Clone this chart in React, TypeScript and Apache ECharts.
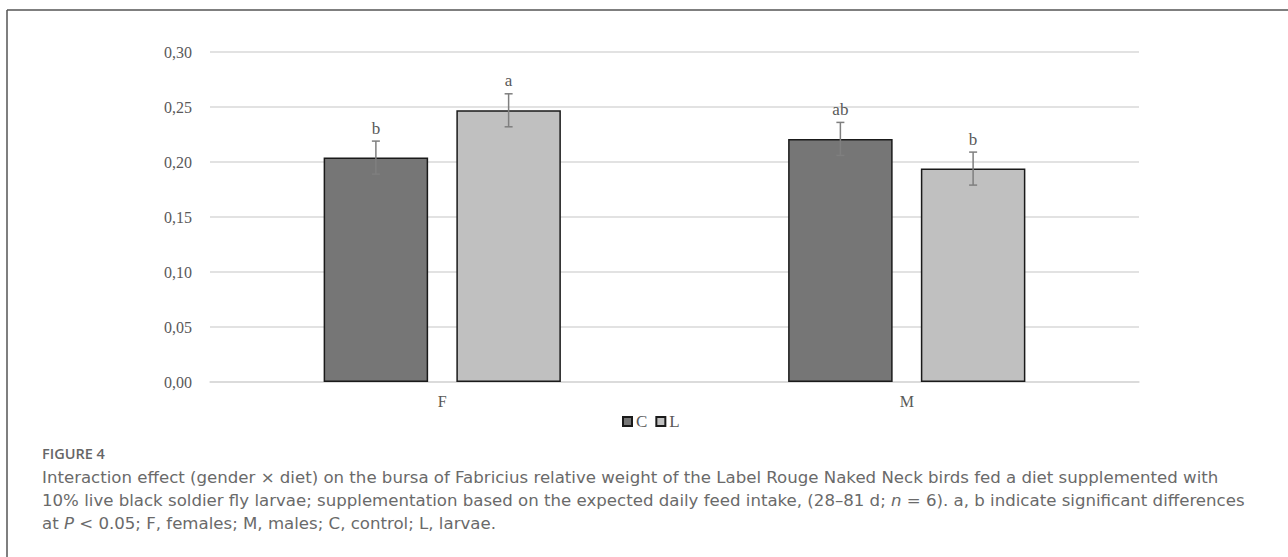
import React, { useEffect, useRef } from "react";
import * as echarts from "echarts";

const categories = ["F", "M"];
const seriesNames = ["C", "L"];
const cValues = [0.204, 0.221];
const lValues = [0.247, 0.194];
const cErrors = [0.015, 0.015];
const lErrors = [0.015, 0.015];
const cLetters = ["b", "ab"];
const lLetters = ["a", "b"];

const captionTitle = "FIGURE 4";
const captionLines = [
  "Interaction effect (gender × diet) on the bursa of Fabricius relative weight of the Label Rouge Naked Neck birds fed a diet supplemented with",
  "10% live black soldier fly larvae; supplementation based on the expected daily feed intake, (28–81 d; {i|n} = 6). a, b indicate significant differences",
  "at {i|P} < 0.05; F, females; M, males; C, control; L, larvae.",
];

const BAR_W = 0.225;
const BAR_GAP = 0.27;
const OFFSET_FRAC = (BAR_W * (1 + BAR_GAP)) / 2;
const SERIF = "'Liberation Serif', 'Times New Roman', serif";
const TXT = "#595959";

function errSeries(name: string, values: number[], errs: number[], letters: string[], sign: number) {
  return {
    type: "custom",
    name,
    z: 10,
    renderItem: (params: any, api: any) => {
      const i = api.value(0);
      const v = api.value(1);
      const e = api.value(2);
      const band = api.size([1, 0])[0];
      const off = sign * band * OFFSET_FRAC;
      const top = api.coord([i, v + e]);
      const bot = api.coord([i, v - e]);
      const x = top[0] + off;
      const stroke = { stroke: "#7f7f7f", lineWidth: 1.5 };
      return {
        type: "group",
        children: [
          { type: "line", shape: { x1: x, y1: top[1], x2: x, y2: bot[1] }, style: stroke },
          { type: "line", shape: { x1: x - 4, y1: top[1], x2: x + 4, y2: top[1] }, style: stroke },
          { type: "line", shape: { x1: x - 4, y1: bot[1], x2: x + 4, y2: bot[1] }, style: stroke },
          {
            type: "text",
            x,
            y: top[1] - 13,
            style: {
              text: letters[i],
              textAlign: "center",
              textVerticalAlign: "middle",
              font: `17px ${SERIF}`,
              fill: TXT,
            },
          },
        ],
      };
    },
    data: values.map((v, i) => [i, v, errs[i]]),
    encode: { x: 0, y: 1 },
  };
}

export default function App() {
  const ref = useRef<HTMLDivElement>(null);
  useEffect(() => {
    const chart = echarts.init(ref.current!, null, { renderer: "svg" });
    const captionFont = "'DejaVu Sans', 'Open Sans', sans-serif";
    chart.setOption({
      animation: false,
      backgroundColor: "#ffffff",
      grid: { left: 210, width: 929, top: 52, bottom: 175 },
      legend: {
        data: seriesNames,
        left: 622,
        top: 413,
        padding: 0,
        itemWidth: 9,
        itemHeight: 9,
        itemGap: 8,
        textStyle: { fontFamily: SERIF, fontSize: 17, color: TXT, padding: [0, 0, 0, -1] },
        icon: "rect",
      },
      xAxis: {
        type: "category",
        data: categories,
        axisLine: { lineStyle: { color: "#d9d9d9", width: 1.5 } },
        axisTick: { show: false },
        axisLabel: { fontFamily: SERIF, fontSize: 16, color: TXT, margin: 11 },
      },
      yAxis: {
        type: "value",
        min: 0,
        max: 0.3,
        interval: 0.05,
        axisLine: { show: false },
        axisTick: { show: false },
        splitLine: { lineStyle: { color: "#d9d9d9", width: 1.5 } },
        axisLabel: {
          fontFamily: SERIF,
          fontSize: 16,
          color: TXT,
          margin: 18,
          formatter: (v: number) => v.toFixed(2).replace(".", ","),
        },
      },
      series: [
        {
          type: "bar",
          name: seriesNames[0],
          data: cValues,
          barWidth: `${BAR_W * 100}%`,
          barGap: `${BAR_GAP * 100}%`,
          itemStyle: { color: "#767676", borderColor: "#1a1a1a", borderWidth: 1.5 },
        },
        {
          type: "bar",
          name: seriesNames[1],
          data: lValues,
          barWidth: `${BAR_W * 100}%`,
          barGap: `${BAR_GAP * 100}%`,
          itemStyle: { color: "#c0c0c0", borderColor: "#1a1a1a", borderWidth: 1.5 },
        },
        errSeries("errC", cValues, cErrors, cLetters, -1),
        errSeries("errL", lValues, lErrors, lLetters, 1),
      ],
      graphic: [
        { type: "line", shape: { x1: 7, y1: 10, x2: 1288, y2: 10 }, style: { stroke: "#555", lineWidth: 1.5 } },
        { type: "line", shape: { x1: 7, y1: 10, x2: 7, y2: 557 }, style: { stroke: "#555", lineWidth: 1.5 } },
        {
          type: "text",
          x: 42,
          y: 453,
          style: { text: captionTitle, font: `600 14.5px 'Open Sans', sans-serif`, fill: "#666", textVerticalAlign: "middle" },
        },
        ...captionLines.map((t, k) => ({
          type: "text",
          x: 42,
          y: 477 + k * 23,
          style: {
            text: t,
            font: `400 16.6px ${captionFont}`,
            fill: "#6a6a6a",
            textVerticalAlign: "middle",
            rich: { i: { fontStyle: "italic", fontFamily: captionFont, fontSize: 16.6, fontWeight: 400, fill: "#6a6a6a" } },
          },
        })),
      ],
    });
    return () => chart.dispose();
  }, []);
  return <div ref={ref} style={{ position: "fixed", left: 0, top: 0, width: 1288, height: 557 }} />;
}
